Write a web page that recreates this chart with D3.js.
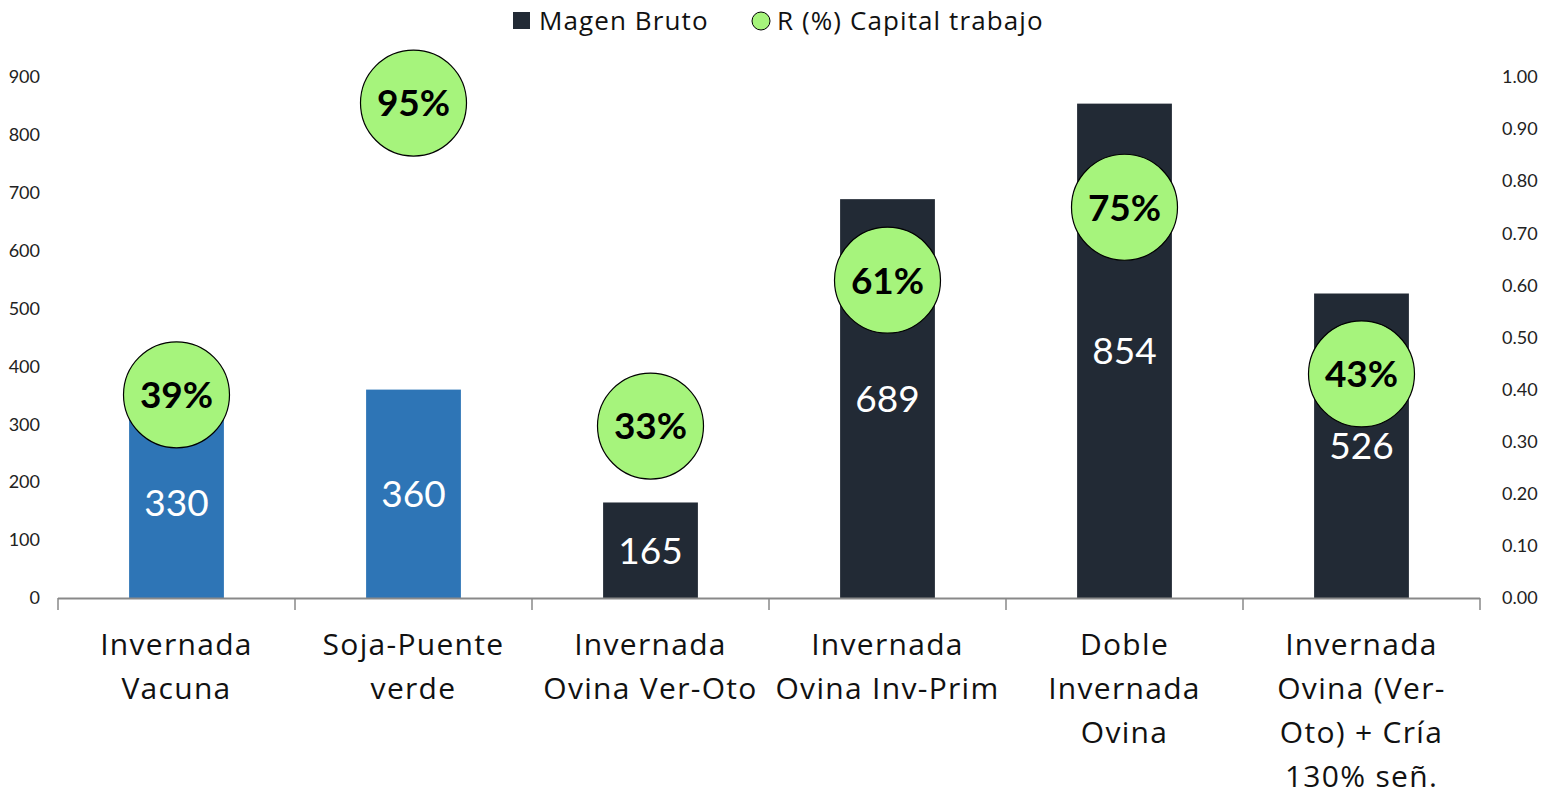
<!DOCTYPE html>
<html>
<head>
<meta charset="utf-8">
<script src="https://cdn.jsdelivr.net/npm/d3@7"></script>
<style>
  html, body { margin: 0; padding: 0; background: #fff; }
  svg { display: block; font-family: Lato, "Open Sans", sans-serif; }
</style>
</head>
<body>
<div id="chart"></div>
<script>
// data
const categories = [
    "Invernada Vacuna",
    "Soja-Puente verde",
    "Invernada Ovina Ver-Oto",
    "Invernada Ovina Inv-Prim",
    "Doble Invernada Ovina",
    "Invernada Ovina (Ver-Oto) + Cría 130% señ."
];
const categoryLines = [
    ["Invernada", "Vacuna"],
    ["Soja-Puente", "verde"],
    ["Invernada", "Ovina Ver-Oto"],
    ["Invernada", "Ovina Inv-Prim"],
    ["Doble", "Invernada", "Ovina"],
    ["Invernada", "Ovina (Ver-", "Oto) + Cría", "130% señ."]
];
const margenBruto = [330, 360, 165, 689, 854, 526];
const retornoCapital = [0.39, 0.95, 0.33, 0.61, 0.75, 0.43];
const barGroup = ["agri", "agri", "gan", "gan", "gan", "gan"];
const leftTicks = [0, 100, 200, 300, 400, 500, 600, 700, 800, 900];
const rightTicks = [0, 0.1, 0.2, 0.3, 0.4, 0.5, 0.6, 0.7, 0.8, 0.9, 1.0];
const legendLabels = ["Magen Bruto", "R (%) Capital trabajo"];

const W = 1542, H = 796;
const plot = { left: 58, right: 1480, top: 77, bottom: 598 };
const wideFont = '"Open Sans", Lato, sans-serif';

const svg = d3.select('#chart').append('svg')
    .attr('width', W)
    .attr('height', H);

const x = d3.scaleBand()
    .domain(categories)
    .range([plot.left, plot.right])
    .paddingInner(0.6)
    .paddingOuter(0.3);

const xEdge = d3.scaleBand()
    .domain(categories)
    .range([plot.left, plot.right]);

const yLeft = d3.scaleLinear().domain([0, 900]).range([plot.bottom, plot.top]);
const yRight = d3.scaleLinear().domain([0, 1]).range([plot.bottom, plot.top]);

const color = d3.scaleOrdinal().domain(["agri", "gan"]).range(["#2E75B6", "#222A35"]);
const green = "#A6F47C";

// left axis (labels only)
const leftAxis = svg.append('g')
    .attr('transform', `translate(${plot.left - 18},0)`)
    .call(d3.axisLeft(yLeft).tickValues(leftTicks).tickSize(0).tickPadding(0));
leftAxis.select('.domain').remove();
leftAxis.selectAll('text')
    .style('font-size', '18px')
    .style('font-family', 'Lato, "Open Sans", sans-serif')
    .attr('fill', '#222');

const rightAxis = svg.append('g')
    .attr('transform', `translate(${plot.right + 22},0)`)
    .call(d3.axisRight(yRight).tickValues(rightTicks).tickFormat(d3.format('.2f')).tickSize(0).tickPadding(0));
rightAxis.select('.domain').remove();
rightAxis.selectAll('text')
    .style('font-size', '18px')
    .style('font-family', 'Lato, "Open Sans", sans-serif')
    .attr('fill', '#222');

// bars
svg.append('g').selectAll('rect')
    .data(categories)
    .enter()
    .append('rect')
    .attr('x', d => x(d))
    .attr('width', x.bandwidth())
    .attr('y', (d, i) => yLeft(margenBruto[i]))
    .attr('height', (d, i) => plot.bottom - yLeft(margenBruto[i]))
    .attr('fill', (d, i) => color(barGroup[i]));

// bar value labels
svg.append('g').selectAll('text')
    .data(categories)
    .enter()
    .append('text')
    .attr('x', d => x(d) + x.bandwidth() / 2)
    .attr('y', (d, i) => (yLeft(margenBruto[i]) + plot.bottom) / 2)
    .attr('dy', '0.36em')
    .attr('text-anchor', 'middle')
    .style('font-size', '37px')
    .attr('fill', '#fff')
    .text((d, i) => margenBruto[i]);

// x axis line + ticks between categories
svg.append('line')
    .attr('x1', plot.left).attr('x2', plot.right)
    .attr('y1', plot.bottom + 0.5).attr('y2', plot.bottom + 0.5)
    .attr('stroke', '#898989')
    .attr('stroke-width', 2);

const edges = categories.map(d => xEdge(d)).concat([plot.right]);
svg.append('g').selectAll('line')
    .data(edges)
    .enter()
    .append('line')
    .attr('x1', d => d).attr('x2', d => d)
    .attr('y1', plot.bottom).attr('y2', plot.bottom + 12)
    .attr('stroke', '#898989')
    .attr('stroke-width', 1.5);

// category labels
const catLabels = svg.append('g').selectAll('text')
    .data(categories)
    .enter()
    .append('text')
    .attr('x', d => xEdge(d) + xEdge.bandwidth() / 2)
    .attr('y', 655)
    .attr('text-anchor', 'middle')
    .style('font-size', '30px')
    .style('letter-spacing', '1.3px')
    .style('font-family', wideFont)
    .attr('fill', '#111');
catLabels.each(function(d, i) {
    const t = d3.select(this);
    categoryLines[i].forEach((line, j) => {
        t.append('tspan')
            .attr('x', xEdge(d) + xEdge.bandwidth() / 2)
            .attr('dy', j === 0 ? 0 : 44)
            .text(line);
    });
});

// circles for R (%)
const dots = svg.append('g').selectAll('g')
    .data(categories)
    .enter()
    .append('g')
    .attr('transform', (d, i) => `translate(${x(d) + x.bandwidth() / 2},${yRight(retornoCapital[i])})`);

dots.append('circle')
    .attr('r', 53)
    .attr('fill', green)
    .attr('stroke', '#000')
    .attr('stroke-width', 1.2);

dots.append('text')
    .attr('text-anchor', 'middle')
    .attr('dy', '0.36em')
    .style('font-size', '37px')
    .style('font-weight', 'bold')
    .attr('fill', '#000')
    .text((d, i) => d3.format('.0%')(retornoCapital[i]));

// legend
const legend = svg.append('g')
    .style('font-size', '26px')
    .style('letter-spacing', '1.1px')
    .style('font-family', wideFont);
legend.append('rect')
    .attr('x', 513).attr('y', 12)
    .attr('width', 17).attr('height', 17)
    .attr('fill', '#222A35');
legend.append('text')
    .attr('x', 539).attr('y', 21)
    .attr('dy', '0.36em')
    .attr('fill', '#111')
    .text(legendLabels[0]);
legend.append('circle')
    .attr('cx', 761).attr('cy', 21).attr('r', 9)
    .attr('fill', green)
    .attr('stroke', '#000')
    .attr('stroke-width', 1);
legend.append('text')
    .attr('x', 777).attr('y', 21)
    .attr('dy', '0.36em')
    .attr('fill', '#111')
    .text(legendLabels[1]);
</script>
</body>
</html>
